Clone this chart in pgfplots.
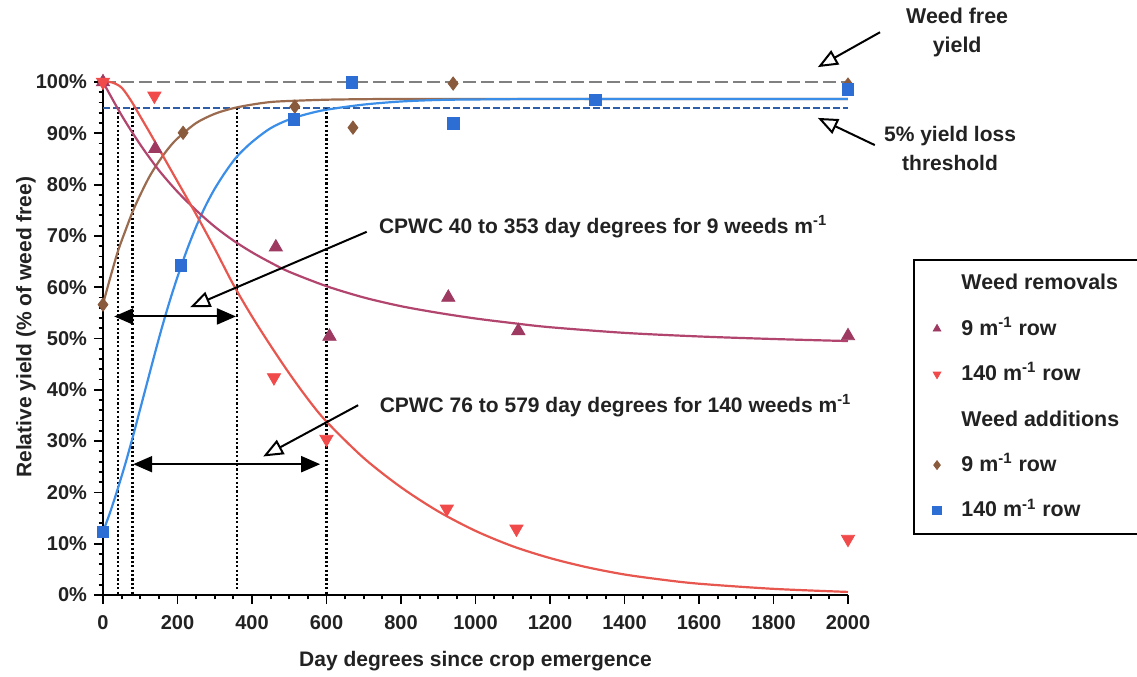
\documentclass[border=0pt]{standalone}
\usepackage{pgfplots}
\pgfplotsset{compat=1.18}
\usepackage{fontspec}
\setmainfont{Liberation Sans}
\usetikzlibrary{arrows.meta}
\definecolor{cmaroon}{HTML}{9E3A62}
\definecolor{cmaroonline}{HTML}{B2456E}
\definecolor{cred}{HTML}{F04A4A}
\definecolor{credline}{HTML}{E8574F}
\definecolor{cbrown}{HTML}{8A5A3C}
\definecolor{cbrownline}{HTML}{9A6B4E}
\definecolor{cblue}{HTML}{2D6ED4}
\definecolor{cblueline}{HTML}{3A8EE8}
\definecolor{cgray}{HTML}{808080}
\definecolor{cdash}{HTML}{2F5EA8}
\definecolor{ctext}{HTML}{222222}
\begin{document}
\begin{tikzpicture}[font=\fontsize{10.5}{12.6}\selectfont\bfseries, text=ctext]
\begin{axis}[
  at={(0,0)}, anchor=south west,
  scale only axis, width=372.5pt, height=256.5pt,
  xmin=0, xmax=2000, ymin=0, ymax=100,
  axis x line*=bottom, axis y line*=left,
  axis line style={line width=1pt, -, black},
  xtick={0,200,...,2000}, ytick={0,10,...,100},
  minor x tick num=3, minor y tick num=4,
  tick align=outside, major tick length=4.5pt, minor tick length=2.2pt,
  every tick/.style={line width=0.9pt, black},
  yticklabel={\pgfmathprintnumber{\tick}\%},
  /pgf/number format/assume math mode=true,
  /pgf/number format/1000 sep={},
  ticklabel style={font=\fontsize{10}{12}\selectfont\bfseries},
  xticklabel style={yshift=-2pt},
  clip=false,
  xlabel={Day degrees since crop emergence},
  ylabel={Relative yield (\% of weed free)},
  xlabel style={at={(axis description cs:0.5,-0.128)}, anchor=center},
  ylabel style={at={(axis description cs:-0.1034,0.522)}, anchor=center},
  legend style={at={(1.0872,0.655)}, anchor=north west, draw=black, line width=1pt,
    font=\fontsize{10.7}{12.8}\selectfont\bfseries, row sep=9.2pt, column sep=9pt,
    inner ysep=5pt,
    nodes={inner sep=1pt, text height=9pt, text depth=2.5pt}},
  legend cell align=left,
  legend image post style={line width=0.4pt, mark size=2.2pt},
]
% reference lines
\addplot[cgray, line width=1pt, dash pattern=on 6.5pt off 2.5pt, forget plot] coordinates {(0,100) (2000,100)};
\addplot[cdash, line width=1pt, dash pattern=on 3.5pt off 1.5pt, forget plot] coordinates {(0,95) (2000,95)};
% CPWC limits
\addplot[black, line width=1.2pt, dash pattern=on 1.1pt off 1.1pt, forget plot] coordinates {(41,95) (41,0)};
\addplot[black, line width=1.2pt, dash pattern=on 1.1pt off 1.1pt, forget plot] coordinates {(79,95) (79,0)};
\addplot[black, line width=1.2pt, dash pattern=on 1.1pt off 1.1pt, forget plot] coordinates {(359,95) (359,1)};
\addplot[black, line width=1.2pt, dash pattern=on 1.1pt off 1.1pt, forget plot] coordinates {(600,95) (600,0)};
% fitted curves
\addplot[cbrownline, line width=1.1pt, smooth, forget plot] coordinates {(0,56.7)(20,62)(40,67)(60,71)(80,74.8)(100,78)(125,81.6)(150,84.5)(175,87)(200,89)(250,92)(300,93.8)(350,94.9)(400,95.6)(450,96.1)(500,96.3)(600,96.55)(700,96.65)(800,96.7)(1000,96.7)(1500,96.7)(2000,96.7)};
\addplot[cblueline, line width=1.1pt, smooth, forget plot] coordinates {(0,12.3)(20,16.3)(40,20.8)(60,25.6)(80,30.8)(100,36.3)(120,41.8)(140,47.3)(160,52.6)(180,57.5)(200,62)(225,67.2)(250,71.8)(275,75.8)(300,79.2)(330,82.6)(360,85.5)(400,88.3)(450,91)(500,92.7)(550,93.8)(600,94.6)(700,95.6)(800,96.2)(900,96.5)(1000,96.6)(1200,96.7)(1500,96.7)(2000,96.7)};
\addplot[cmaroonline, line width=1.1pt, smooth, forget plot] coordinates {(0,100)(50,93.5)(100,87.8)(150,82.8)(200,78.6)(250,75)(300,71.8)(350,69.1)(400,66.8)(450,64.8)(500,63)(600,60.2)(700,58)(800,56.3)(900,55)(1000,53.9)(1100,53)(1200,52.2)(1400,51.1)(1600,50.4)(1800,49.9)(2000,49.5)};
\addplot[credline, line width=1.1pt, smooth, forget plot] coordinates {(0,100.1)(25,99.9)(50,98.9)(75,96.4)(100,93.3)(125,90.2)(150,87)(175,83.8)(200,80.6)(250,74.2)(300,67.5)(350,60.5)(400,54.3)(450,48.6)(500,43.2)(550,38.2)(600,33.8)(700,26.7)(800,21)(900,16.3)(1000,12.5)(1100,9.5)(1200,7.2)(1300,5.4)(1400,4)(1500,3)(1600,2.2)(1800,1.2)(2000,0.6)};
% data points
\addplot[only marks, mark=triangle*, mark size=3.8pt, color=cmaroon, forget plot] coordinates {(0,100)(140,87)(464,67.8)(608,50.4)(927,58)(1115,51.5)(2000,50.5)};
\addplot[only marks, mark=triangle*, mark options={rotate=180}, mark size=3.8pt, color=cred, forget plot] coordinates {(0,100)(138,97.3)(459,42.4)(600,30.4)(923,16.8)(1110,12.9)(2000,10.9)};
\addplot[only marks, mark=diamond*, mark size=3.3pt, color=cbrown, forget plot] coordinates {(0,56.6)(215,90.1)(515,95.2)(671,91.1)(940,99.7)(2000,99.5)};
\addplot[only marks, mark=square*, mark size=2.9pt, color=cblue, forget plot] coordinates {(0,12.3)(209,64.2)(513,92.7)(668,99.9)(940,91.9)(1322,96.5)(2000,98.5)};
% legend
\addlegendimage{empty legend}\addlegendentry{Weed removals}
\addlegendimage{only marks, mark=triangle*, color=cmaroon}\addlegendentry{9 m\textsuperscript{-1} row}
\addlegendimage{only marks, mark=triangle*, mark options={rotate=180}, color=cred}\addlegendentry{140 m\textsuperscript{-1} row}
\addlegendimage{empty legend}\addlegendentry{\makebox[90pt][l]{Weed additions}}
\addlegendimage{only marks, mark=diamond*, color=cbrown}\addlegendentry{9 m\textsuperscript{-1} row}
\addlegendimage{only marks, mark=square*, color=cblue}\addlegendentry{140 m\textsuperscript{-1} row}
% annotations
\node[anchor=base west] at (axis cs:722,70.5) {CPWC 40 to 353 day degrees for 9 weeds m\textsuperscript{-1}};
\node[anchor=base west] at (axis cs:724,35.6) {CPWC 76 to 579 day degrees for 140 weeds m\textsuperscript{-1}};
\draw[line width=1pt, -{Triangle[open,length=10pt,width=8pt,fill=white]}] (axis cs:708,70.8) -- (axis cs:234,56.1);
\draw[line width=1pt, -{Triangle[open,length=10pt,width=8pt,fill=white]}] (axis cs:685,37.0) -- (axis cs:430,27.0);
\draw[line width=1pt, {Triangle[length=9.5pt,width=8pt]}-{Triangle[length=9.5pt,width=8pt]}] (axis cs:30,54.3) -- (axis cs:357,54.3);
\draw[line width=1pt, {Triangle[length=9.5pt,width=8pt]}-{Triangle[length=9.5pt,width=8pt]}] (axis cs:81,25.5) -- (axis cs:583,25.5);
\node[align=center, font=\fontsize{10.7}{14.5}\selectfont\bfseries] at (axis cs:2293,109.7) {Weed free\\yield};
\node[align=center, font=\fontsize{10.5}{14.5}\selectfont\bfseries] at (axis cs:2274,87.1) {5\% yield loss\\threshold};
\draw[line width=1pt, -{Triangle[open,length=10pt,width=8pt,fill=white]}] (axis cs:2086,109.7) -- (axis cs:1919,102.9);
\draw[line width=1pt, -{Triangle[open,length=10pt,width=8pt,fill=white]}] (axis cs:2072,87.7) -- (axis cs:1919,93.0);
\end{axis}
\pgfresetboundingbox
\useasboundingbox (-51.5pt,-40.5pt) rectangle (517pt,297.5pt);
\end{tikzpicture}
\end{document}
